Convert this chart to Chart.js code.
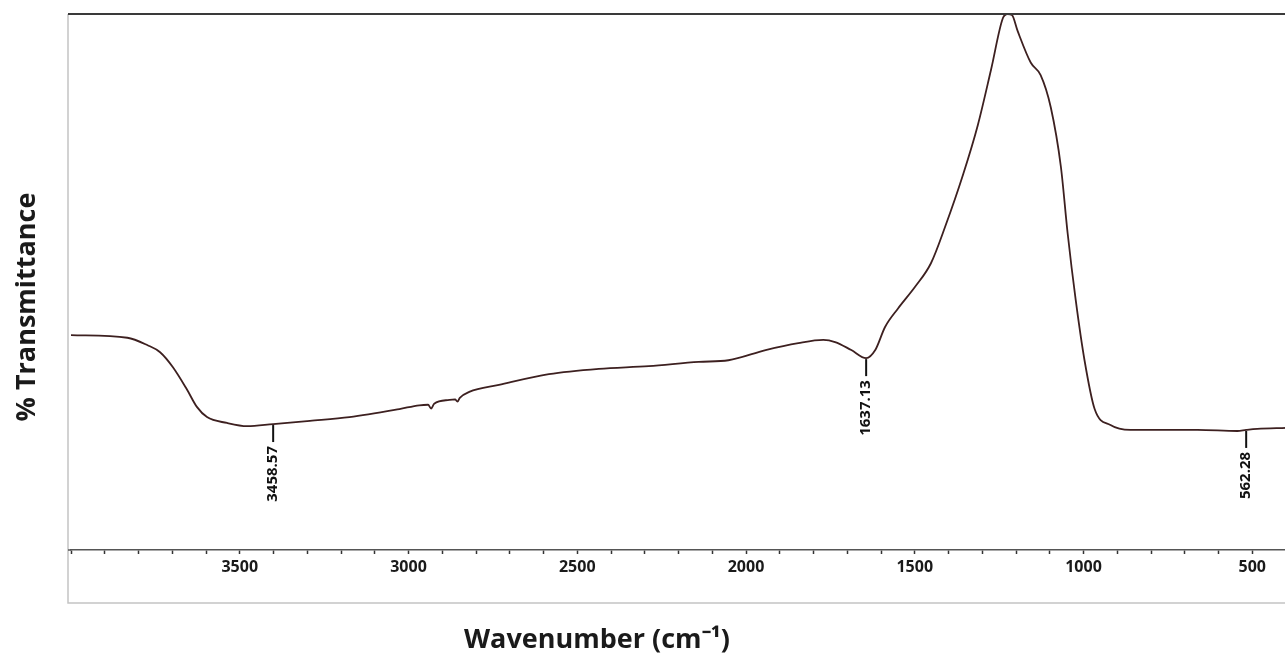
<!DOCTYPE html>
<html>
<head>
<meta charset="utf-8">
<script src="https://cdn.jsdelivr.net/npm/chart.js@4"></script>
<style>
  html, body { margin: 0; padding: 0; background: #fff; overflow: hidden; }
  #wrap { width: 1290px; height: 661px; position: relative; }
</style>
</head>
<body>
<div id="wrap"><canvas id="chart"></canvas></div>
<script>
// spectrum: wavenumber (cm-1) and % transmittance (0..100 of the plot height)
const wavenumbers = [4000, 3833, 3773, 3736, 3698, 3656, 3627, 3597, 3538, 3478, 3401, 3292, 3175, 3027,
  2968, 2942, 2933, 2924, 2879, 2862, 2855, 2848, 2820, 2732, 2584, 2436, 2288, 2140, 2052, 1942, 1845,
  1771, 1736, 1688, 1644, 1617, 1588, 1549, 1499, 1452, 1410, 1357, 1313, 1274, 1239, 1225, 1212,
  1195, 1156, 1127, 1097, 1067, 1047, 1023, 997, 967, 920, 861, 662, 544, 518, 485, 400];
const transmittance = [40.1, 39.6, 38.2, 36.9, 34.1, 29.9, 26.7, 24.8, 23.7, 23.1, 23.5, 24.1, 24.8, 26.3,
  27.0, 27.1, 26.4, 27.3, 28.0, 28.1, 27.7, 28.4, 29.5, 30.8, 32.8, 33.8, 34.3, 35.1, 35.4, 37.3, 38.6,
  39.2, 38.8, 37.3, 35.8, 37.3, 41.6, 45.1, 49.1, 53.5, 60.3, 70.0, 79.3, 89.6, 99.2, 100, 99.8,
  96.8, 90.9, 88.6, 82.6, 71.5, 59.1, 46.6, 35.4, 26.3, 23.3, 22.4, 22.4, 22.2, 22.4, 22.6, 22.8];

// peak markers: position on the drawn curve and the printed label
const peakPos = [3401, 1644, 518];
const peakVal = [23.5, 35.8, 22.4];
const peakText = ['3458.57', '1637.13', '562.28'];

const xMin = 400, xMax = 4000;
const tickStep = 100;
const labelStep = 500;

const points = wavenumbers.map((w, i) => ({ x: w, y: transmittance[i] }));

const framePlugin = {
  id: 'frame',
  afterDraw(chart) {
    const ctx = chart.ctx;
    const a = chart.chartArea;
    const sx = chart.scales.x, sy = chart.scales.y;
    const left = a.left - 3;
    ctx.save();
    // light outer box
    ctx.strokeStyle = '#c4c4c4';
    ctx.lineWidth = 1.5;
    ctx.beginPath();
    ctx.moveTo(left, a.top);
    ctx.lineTo(left, 603);
    ctx.lineTo(a.right, 603);
    ctx.stroke();
    // dark top line
    ctx.strokeStyle = '#3a3a3a';
    ctx.lineWidth = 2;
    ctx.beginPath();
    ctx.moveTo(left, a.top);
    ctx.lineTo(a.right, a.top);
    ctx.stroke();
    // axis line reaches the box edge
    ctx.strokeStyle = '#555';
    ctx.lineWidth = 1.5;
    ctx.beginPath();
    ctx.moveTo(left, a.bottom);
    ctx.lineTo(a.left, a.bottom);
    ctx.stroke();

    // peak markers
    ctx.strokeStyle = '#111';
    ctx.fillStyle = '#111';
    ctx.lineWidth = 2;
    ctx.font = 'bold 15px "Open Sans", sans-serif';
    ctx.textAlign = 'right';
    ctx.textBaseline = 'middle';
    peakPos.forEach((p, i) => {
      const px = sx.getPixelForValue(p);
      const py = sy.getPixelForValue(peakVal[i]);
      ctx.beginPath();
      ctx.moveTo(px, py + 1);
      ctx.lineTo(px, py + 18);
      ctx.stroke();
      ctx.save();
      ctx.translate(px, py + 22);
      ctx.rotate(-Math.PI / 2);
      ctx.fillText(peakText[i], 0, 0);
      ctx.restore();
    });

    // axis titles
    ctx.fillStyle = '#1a1a1a';
    ctx.font = 'bold 27px "Open Sans", sans-serif';
    ctx.textAlign = 'center';
    ctx.textBaseline = 'middle';
    ctx.fillText('Wavenumber (cm\u207B\u00B9)', 597, 640);
    ctx.save();
    ctx.translate(27, 307);
    ctx.rotate(-Math.PI / 2);
    ctx.fillText('% Transmittance', 0, 0);
    ctx.restore();
    ctx.restore();
  }
};

new Chart(document.getElementById('chart'), {
  type: 'line',
  data: {
    datasets: [{
      data: points,
      borderColor: '#3d2020',
      borderWidth: 1.8,
      pointRadius: 0,
      cubicInterpolationMode: 'monotone',
      fill: false,
      clip: 4
    }]
  },
  options: {
    responsive: true,
    maintainAspectRatio: false,
    animation: false,
    layout: { padding: { left: 71, top: 14, right: 2, bottom: 58 } },
    plugins: { legend: { display: false }, tooltip: { enabled: false } },
    scales: {
      x: {
        type: 'linear',
        reverse: true,
        min: xMin,
        max: xMax,
        afterFit: s => { s.height = 53; },
        ticks: {
          stepSize: tickStep,
          maxTicksLimit: 100,
          autoSkip: false,
          maxRotation: 0,
          padding: 4,
          color: '#1a1a1a',
          font: { family: '"Open Sans", sans-serif', size: 16, weight: 'bold' },
          callback: v => (Math.round(v) % labelStep === 0 && v !== xMin && v !== xMax ? String(Math.round(v)) : '')
        },
        grid: {
          drawOnChartArea: false,
          drawTicks: true,
          tickLength: 4,
          tickWidth: 1.5,
          color: '#333'
        },
        border: { display: true, color: '#555', width: 1.5 }
      },
      y: {
        display: false,
        min: 0,
        max: 100
      }
    }
  },
  plugins: [framePlugin]
});
</script>
</body>
</html>
